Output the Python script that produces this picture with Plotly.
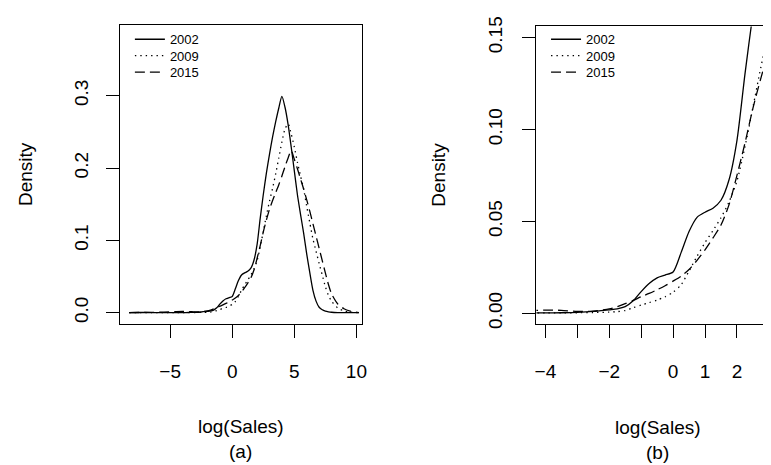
import plotly.graph_objects as go

# ---- data ----
log_sales = [-8.3, -7.5, -6.5, -5.5, -4.5, -4.0, -3.5, -3.0, -2.5, -2.0,
             -1.75, -1.5, -1.25, -1.0, -0.75, -0.5, -0.25, 0.0, 0.25, 0.5,
             0.75, 1.0, 1.25, 1.5, 1.75, 2.0, 2.25, 2.5, 2.75, 3.0,
             3.25, 3.5, 3.75, 4.0, 4.25, 4.5, 4.75, 5.0, 5.25, 5.5,
             5.75, 6.0, 6.25, 6.5, 6.75, 7.0, 7.25, 7.5, 7.75, 8.0,
             8.5, 9.0, 9.5, 10.2]

density_2002 = [0.0, 0.0003, 0.0002, 0.0002, 0.0002, 0.0002, 0.0003, 0.0005, 0.0010, 0.0019,
                0.0024, 0.0036, 0.0068, 0.0118, 0.0162, 0.0193, 0.0208, 0.0225, 0.0330, 0.0445,
                0.0522, 0.0550, 0.0572, 0.0615, 0.0725, 0.0940, 0.1300, 0.1630, 0.1930, 0.2190,
                0.2430, 0.2640, 0.2830, 0.2990, 0.2840, 0.2600, 0.2290, 0.1960, 0.1630, 0.1360,
                0.1100, 0.0810, 0.0550, 0.0310, 0.0160, 0.0075, 0.0040, 0.0022, 0.0012, 0.0006,
                0.0002, 0.0001, 0.0, 0.0]

density_2009 = [0.0, 0.0002, 0.0002, 0.0002, 0.0002, 0.0002, 0.0002, 0.0003, 0.0004, 0.0006,
                0.0009, 0.0015, 0.0030, 0.0045, 0.0058, 0.0072, 0.0090, 0.0115, 0.0155, 0.0230,
                0.0310, 0.0385, 0.0450, 0.0520, 0.0605, 0.0720, 0.0905, 0.1120, 0.1340, 0.1540,
                0.1720, 0.1920, 0.2140, 0.2360, 0.2540, 0.2610, 0.2470, 0.2290, 0.2080, 0.1890,
                0.1710, 0.1470, 0.1240, 0.1020, 0.0850, 0.0680, 0.0520, 0.0360, 0.0240, 0.0160,
                0.0065, 0.0025, 0.0008, 0.0]

density_2015 = [0.0, 0.0003, 0.0004, 0.0008, 0.0015, 0.0017, 0.0016, 0.0010, 0.0012, 0.0024,
                0.0036, 0.0052, 0.0070, 0.0090, 0.0108, 0.0128, 0.0150, 0.0175, 0.0202, 0.0238,
                0.0288, 0.0345, 0.0410, 0.0480, 0.0590, 0.0750, 0.0925, 0.1115, 0.1280, 0.1430,
                0.1550, 0.1660, 0.1770, 0.1890, 0.2020, 0.2140, 0.2240, 0.2120, 0.1990, 0.1850,
                0.1710, 0.1560, 0.1400, 0.1230, 0.1060, 0.0890, 0.0720, 0.0550, 0.0390, 0.0260,
                0.0120, 0.0055, 0.0022, 0.0]

years = ["2002", "2009", "2015"]
series = [density_2002, density_2009, density_2015]
dashes = ["solid", "1.4px,4px", "10px,5px"]

left_xticks = [-5, 0, 5, 10]
left_yticks = [0.0, 0.1, 0.2, 0.3]
left_ytext = ["0.0", "0.1", "0.2", "0.3"]
right_xticks = [-4, -3, -2, -1, 0, 1, 2, 3]
right_xtext = ["\u22124", "", "\u22122", "", "0", "1", "2", "3"]
right_yticks = [0.0, 0.05, 0.10, 0.15]
right_ytext = ["0.00", "0.05", "0.10", "0.15"]

FONT = "Liberation Sans, Arial, Helvetica, sans-serif"
OFF = 8                    # page body margin in the browser
W, H = 771 - OFF, 465 - OFF


def px(v):   # window x pixel -> paper fraction
    return (v - OFF) / W


def py(v):   # window y pixel -> paper fraction
    return 1 - (v - OFF) / H


LEG_ROWS = [37.5, 54.5, 71.5]
LEG_DY = 23                # legend top to item centre

legend_names = ["legend", "legend2", "legend3", "legend4", "legend5", "legend6"]

fig = go.Figure()
for i, (name, ys, d) in enumerate(zip(years, series, dashes)):
    fig.add_trace(go.Scatter(x=log_sales, y=ys, mode="lines", name=name, showlegend=True,
                             line=dict(color="black", width=1.3, dash=d, shape="spline", smoothing=0.7),
                             xaxis="x", yaxis="y", legend=legend_names[i]))
for i, (name, ys, d) in enumerate(zip(years, series, dashes)):
    fig.add_trace(go.Scatter(x=log_sales, y=ys, mode="lines", name=name, showlegend=True,
                             line=dict(color="black", width=1.3, dash=d, shape="spline", smoothing=0.7),
                             xaxis="x2", yaxis="y2", legend=legend_names[3 + i]))

axis_common = dict(showgrid=False, zeroline=False, showline=True, linecolor="black", linewidth=1,
                   ticks="outside", ticklen=13, tickwidth=1, tickcolor="black",
                   ticklabeloverflow="allow",
                   tickfont=dict(family=FONT, size=19, color="black"))

layout = dict(
    width=W, height=H,
    showlegend=True,
    margin=dict(l=0, r=0, t=0, b=0),
    paper_bgcolor="white", plot_bgcolor="white",
    font=dict(family=FONT, color="black"),
    xaxis=dict(domain=[px(119), px(363)], range=[-9.04, 10.43], anchor="y", mirror=True,
               tickvals=left_xticks, ticklabelstandoff=18, **axis_common),
    yaxis=dict(domain=[py(324), py(15)], range=[-0.0151, 0.398], anchor="x", mirror=True,
               tickvals=left_yticks, ticktext=left_ytext, tickangle=-90, ticklabelstandoff=10,
               **axis_common),
    xaxis2=dict(domain=[px(539.3), 1.0], range=[-4.28, 2.91], anchor="y2", mirror=True,
                tickvals=right_xticks, ticktext=right_xtext, ticklabelstandoff=18, **axis_common),
    yaxis2=dict(domain=[py(324), py(16.7)], range=[-0.00563, 0.1561], anchor="x2", mirror=False,
                tickvals=right_yticks, ticktext=right_ytext, tickangle=-90, ticklabelstandoff=13,
                **axis_common),
)
leg_x = [129, 129, 129, 549, 549, 549]
for k, lname in enumerate(legend_names):
    layout[lname] = dict(x=px(leg_x[k]), y=py(LEG_ROWS[k % 3] - LEG_DY), xanchor="left", yanchor="top",
                         bgcolor="rgba(0,0,0,0)", borderwidth=0,
                         font=dict(family=FONT, size=13, color="black"))
fig.update_layout(**layout)

ann_font = dict(family=FONT, size=19, color="black")
annotations = [
    dict(text="log(Sales)", x=px(241), y=py(430)),
    dict(text="(a)", x=px(241), y=py(456)),
    dict(text="log(Sales)", x=px(661.7), y=py(431)),
    dict(text="(b)", x=px(661.7), y=py(457)),
    dict(text="Density", x=px(23.5), y=py(169), textangle=-90),
    dict(text="Density", x=px(441), y=py(170), textangle=-90),
    dict(text="3", x=px(774), y=py(370)),
]
for a in annotations:
    fig.add_annotation(xref="paper", yref="paper", showarrow=False, xanchor="center", yanchor="middle",
                       font=ann_font, **a)

fig.write_html("out.html")
